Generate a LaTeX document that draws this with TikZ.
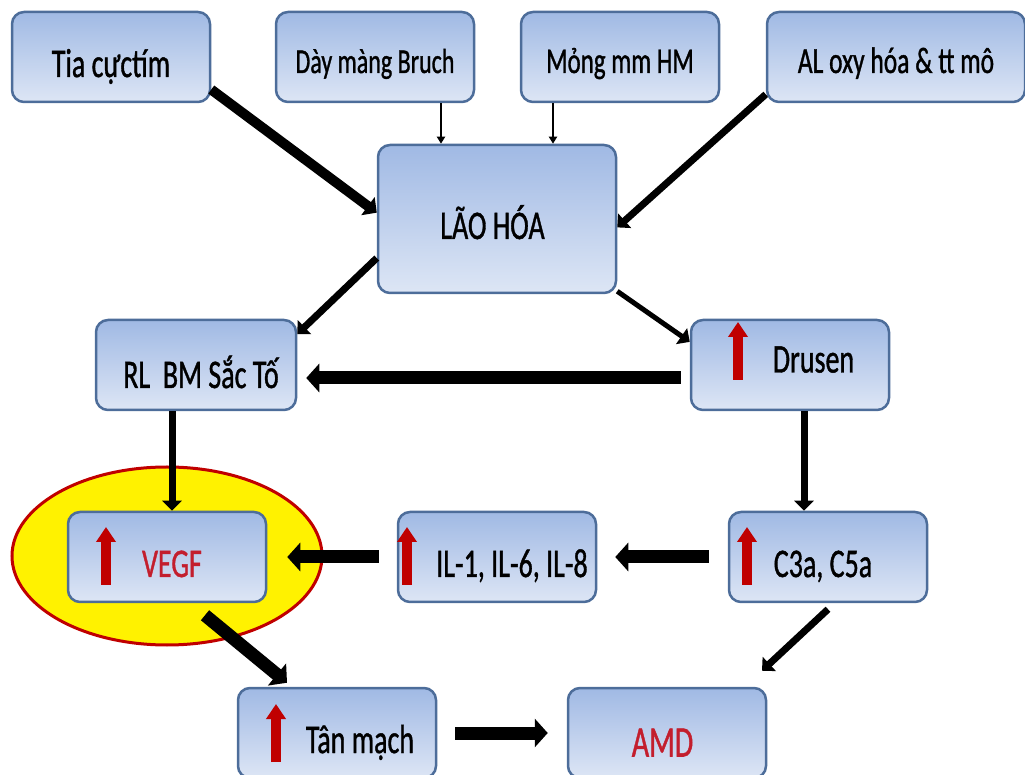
\documentclass[tikz,border=0pt]{standalone}
\usepackage{fontspec}
\setmainfont[FakeBold=1.2,AutoFakeBold=1.2]{Carlito}
\usepackage{graphicx}
\usetikzlibrary{arrows.meta,shapes.geometric}
\definecolor{boxtop}{RGB}{160,185,228}
\definecolor{boxbottom}{RGB}{221,230,245}
\definecolor{boxline}{RGB}{77,109,154}
\definecolor{alertred}{RGB}{192,0,0}
\definecolor{textred}{RGB}{195,30,45}
\newcommand{\tallt}[1]{\scalebox{1}[1.45]{\bfseries #1}}

\begin{document}
\begin{tikzpicture}[x=1pt,y=1pt,
    causebox/.style={draw=boxline,line width=2.5pt,rounded corners=12pt,
      top color=boxtop,bottom color=boxbottom,
      minimum width=198pt,minimum height=90pt,inner sep=0pt,
      text height=40pt,text depth=0pt,font=\fontsize{28}{30}\selectfont},
    thinarr/.style={line width=2pt,-{Triangle[length=7pt,width=8pt]}},
    medarr/.style={line width=7pt,-{Triangle[length=10pt,width=19pt]}},
    bigarr/.style={line width=13pt,-{Triangle[length=13pt,width=28pt]}},
    uparr/.style={alertred,line width=10pt,-{Triangle[length=15pt,width=19pt]}}]
  \useasboundingbox (0,0) rectangle (1025,774);

  % top row
  \node[causebox] (tia) at (111,717) {\tallt{Tia cựctím}};
  \node[causebox,text height=32pt,font=\fontsize{24}{26}\selectfont]
    (bruch) at (375,717) {\tallt{Dày màng Bruch}};
  \node[causebox,text height=32pt,font=\fontsize{25}{27}\selectfont]
    (mong) at (620,717) {\tallt{Mỏng mm HM}};
  \node[causebox,minimum width=258pt,text height=32pt,font=\fontsize{25.5}{27}\selectfont]
    (alox) at (896,717) {\tallt{AL oxy hóa \& tt mô}};
  \node[causebox,minimum width=238pt,minimum height=148pt]
    (lao) at (497,555) {\tallt{\hspace*{-9pt}LÃO HÓA}};

  % middle rows
  \node[causebox,minimum width=200pt,text height=46pt]
    (rl) at (196,409) {\tallt{\hspace*{10pt}RL\ \ BM Sắc Tố}};
  \node[causebox,text height=15pt] (drusen) at (790,409) {\tallt{\hspace*{47pt}Drusen}};
  \node[ellipse,draw=alertred,fill=yellow,line width=3pt,inner sep=0pt,
    minimum width=310pt,minimum height=178pt] (halo) at (167,218) {};
  \node[causebox,text=textred] (vegf) at (167,217) {\tallt{\hspace*{10pt}VEGF}};
  \node[causebox] (il) at (497,217) {\tallt{\hspace*{30pt}IL-1, IL-6, IL-8}};
  \node[causebox] (c3a) at (828,217) {\tallt{\hspace*{-10pt}C3a, C5a}};

  % bottom row
  \node[causebox] (tan) at (337,41) {\tallt{\hspace*{46pt}Tân mạch}};
  \node[causebox,text=textred,text height=47pt,font=\fontsize{30}{32}\selectfont]
    (amd) at (667,41) {\tallt{\hspace*{-9pt}AMD}};

  % connectors
  \draw[line width=10pt,-{Triangle[length=11pt,width=22pt]}] (tia.-18) -- (lao.177);
  \draw[thinarr] ([xshift=-56pt]lao.north |- bruch.south) -- ([xshift=-56pt]lao.north);
  \draw[thinarr] ([xshift=56pt]lao.north |- mong.south) -- ([xshift=56pt]lao.north);
  \draw[medarr] (alox.196) -- (lao.-4);
  \draw[medarr] (lao.198) -- (rl.17);
  \draw[medarr,line width=5pt] (lao.-31) -- (drusen.167);
  \draw[bigarr,shorten <=9pt,shorten >=9pt] ([yshift=-13pt]drusen.west) -- ([yshift=-13pt]rl.east);
  \draw[medarr] ([xshift=-24pt]rl.south) -- ([xshift=-24pt]rl.south |- vegf.north);
  \draw[medarr] ([xshift=14pt]drusen.south) -- ([xshift=14pt]drusen.south |- c3a.north);
  \draw[bigarr,shorten <=19pt,shorten >=18pt] (c3a.west) -- (il.east);
  \draw[bigarr,shorten <=18pt,shorten >=20pt] (il.west) -- (vegf.east);
  \draw[bigarr] ([shift={(38,-12)}]vegf.south) -- ([shift={(-50,4)}]tan.north);
  \draw[medarr] ([yshift=-6pt]c3a.south) -- ([shift={(95,16)}]amd.north);
  \draw[bigarr,shorten <=18pt,shorten >=19pt] (tan.east) -- (amd.west);

  % red up-arrows
  \draw[uparr] ([shift={(-52,-15)}]drusen.center) -- ++(0,58);
  \draw[uparr] ([shift={(-61,-28)}]vegf.center) -- ++(0,58);
  \draw[uparr] ([shift={(-90,-28)}]il.center) -- ++(0,58);
  \draw[uparr] ([shift={(-81,-28)}]c3a.center) -- ++(0,58);
  \draw[uparr] ([shift={(-61,-29)}]tan.center) -- ++(0,58);
\end{tikzpicture}
\end{document}
